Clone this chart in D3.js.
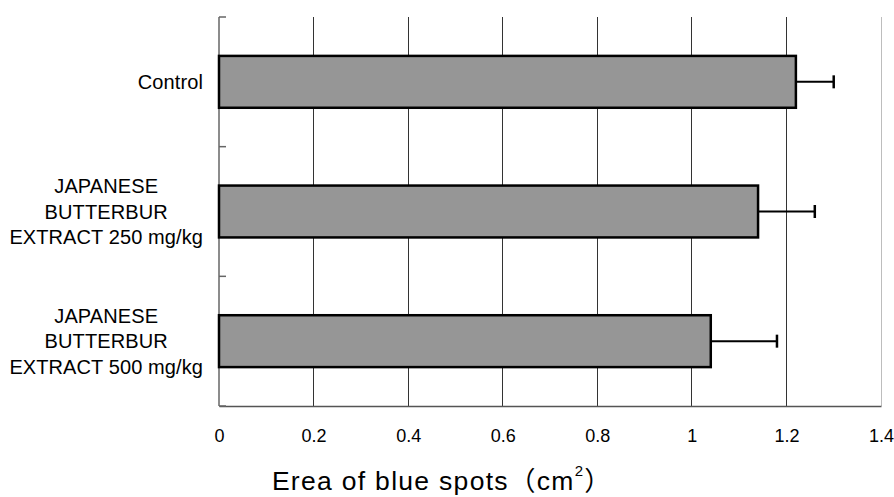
<!DOCTYPE html>
<html><head><meta charset="utf-8">
<script src="https://cdn.jsdelivr.net/npm/d3@7/dist/d3.min.js"></script>
<style>body{margin:0;background:#fff}</style>
</head><body>
<svg id="c" width="894" height="497"></svg>
<script>
const categories = [
  ["Control"],
  ["JAPANESE", "BUTTERBUR", "EXTRACT 250 mg/kg"],
  ["JAPANESE", "BUTTERBUR", "EXTRACT 500 mg/kg"]
];
const values = [1.22, 1.14, 1.04];
const errors = [0.08, 0.12, 0.14];
const xTicks = [0, 0.2, 0.4, 0.6, 0.8, 1, 1.2, 1.4];
const xTitle = "Erea of blue spots";

const svg = d3.select("#c");
const m = {l: 219, r: 881, t: 17, b: 406};
const x = d3.scaleLinear().domain([0, 1.4]).range([m.l, m.r]);
const y = d3.scaleBand().domain(d3.range(categories.length)).range([m.t, m.b]).paddingInner(0.6).paddingOuter(0.3);
const band = d3.scaleBand().domain(d3.range(categories.length)).range([m.t, m.b]);
const font = "'Liberation Sans', Arial, sans-serif";

// gridlines
svg.append("g").selectAll("line").data(xTicks.filter(d => d > 0)).join("line")
  .attr("x1", d => x(d)).attr("x2", d => x(d)).attr("y1", m.t).attr("y2", m.b)
  .attr("stroke", d => d === 1.4 ? "#bdbdbd" : "#333").attr("stroke-width", 1)
  .attr("shape-rendering", "crispEdges");

// x axis
const xa = svg.append("g").attr("transform", `translate(0,${m.b})`)
  .call(d3.axisBottom(x).tickValues(xTicks).tickSize(0).tickPadding(23).tickFormat(d3.format("~g")));
xa.select(".domain").attr("stroke", "#555").attr("stroke-width", 1.5);
xa.selectAll("text").attr("font-family", font).attr("font-size", 18).attr("fill", "#000");

// y axis
const ya = svg.append("g").attr("transform", `translate(${m.l},0)`);
ya.append("line").attr("x1", 0).attr("x2", 0).attr("y1", m.t).attr("y2", m.b)
  .attr("stroke", "#666").attr("stroke-width", 1.5);
const bounds = d3.range(categories.length + 1).map(i => i < categories.length ? band(i) : m.b);
ya.selectAll(".tk").data(bounds).join("line").attr("class", "tk")
  .attr("x1", 0).attr("x2", 7).attr("y1", d => d).attr("y2", d => d)
  .attr("stroke", "#666").attr("stroke-width", 1.5);

// bars
svg.append("g").selectAll("rect").data(values).join("rect")
  .attr("x", x(0)).attr("y", (d, i) => y(i))
  .attr("width", d => x(d) - x(0)).attr("height", y.bandwidth())
  .attr("fill", "#969696").attr("stroke", "#000").attr("stroke-width", 2.5);

// error bars
const eb = svg.append("g").attr("stroke", "#000").attr("stroke-width", 2);
values.forEach((v, i) => {
  const cy = y(i) + y.bandwidth() / 2;
  eb.append("line").attr("x1", x(v)).attr("x2", x(v + errors[i])).attr("y1", cy).attr("y2", cy);
  eb.append("line").attr("x1", x(v + errors[i])).attr("x2", x(v + errors[i])).attr("y1", cy - 6.5).attr("y2", cy + 6.5).attr("stroke-width", 2.5);
});

// category labels
const lh = 25.5, rightEdge = 203;
categories.forEach((lines, i) => {
  const cy = y(i) + y.bandwidth() / 2;
  const g = svg.append("g");
  const first = cy + 7 - (lines.length - 1) / 2 * lh;
  const texts = lines.map((t, k) => g.append("text").attr("font-family", font).attr("font-size", 20)
    .attr("letter-spacing", 0.1).attr("y", first + k * lh).text(t));
  const w = d3.max(texts, t => t.node().getBBox().width);
  texts.forEach(t => t.attr("x", rightEdge - w / 2).attr("text-anchor", "middle"));
});

// axis title
const tt = svg.append("text").attr("x", 442).attr("y", 490).attr("text-anchor", "middle")
  .attr("font-family", "'Liberation Sans', 'Noto Sans CJK JP', sans-serif").attr("font-size", 26.5)
  .attr("letter-spacing", 1.3);
tt.append("tspan").text(xTitle + "\uFF08cm");
tt.append("tspan").attr("font-size", 15).attr("dy", -14).text("2");
tt.append("tspan").attr("dy", 14).text("\uFF09");
</script>
</body></html>
